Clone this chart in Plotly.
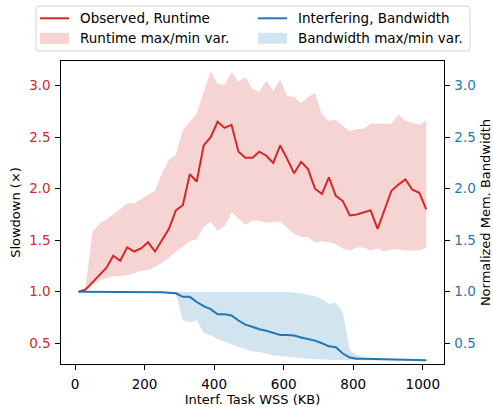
import plotly.graph_objects as go

# ---- data ----
wss_kb = [10, 30, 50, 70, 90, 110, 130, 150, 170, 190, 210, 230, 250, 270, 290, 310, 330, 350,
          370, 390, 410, 430, 450, 470, 490, 510, 530, 550, 570, 590, 610, 630, 650, 670, 690,
          710, 730, 750, 770, 790, 810, 830, 850, 870, 890, 910, 930, 950, 970, 990, 1010]

runtime_mean = [1.00, 1.02, 1.09, 1.16, 1.23, 1.35, 1.30, 1.43, 1.39, 1.42, 1.48, 1.39, 1.50, 1.61,
                1.79, 1.84, 2.14, 2.07, 2.42, 2.50, 2.65, 2.59, 2.62, 2.36, 2.30, 2.30, 2.36, 2.32,
                2.25, 2.42, 2.29, 2.15, 2.26, 2.19, 2.00, 1.95, 2.11, 1.93, 1.88, 1.74, 1.75, 1.77,
                1.79, 1.61, 1.80, 1.98, 2.04, 2.09, 1.99, 1.96, 1.80]
runtime_max = [1.00, 1.04, 1.58, 1.66, 1.70, 1.75, 1.80, 1.86, 1.86, 1.90, 1.94, 1.98, 2.15, 2.28,
               2.33, 2.57, 2.65, 2.73, 2.94, 3.14, 3.02, 3.01, 3.13, 3.04, 3.08, 2.97, 2.94, 3.05,
               2.95, 3.06, 2.90, 2.89, 2.83, 2.89, 2.93, 2.72, 2.66, 2.67, 2.61, 2.56, 2.58, 2.58,
               2.63, 2.63, 2.63, 2.63, 2.72, 2.66, 2.64, 2.62, 2.66]
runtime_min = [1.00, 1.01, 1.065, 1.11, 1.13, 1.15, 1.15, 1.16, 1.18, 1.20, 1.21, 1.24, 1.28, 1.33,
               1.39, 1.44, 1.49, 1.51, 1.63, 1.68, 1.59, 1.64, 1.77, 1.71, 1.65, 1.69, 1.69, 1.67,
               1.68, 1.68, 1.62, 1.56, 1.53, 1.53, 1.48, 1.49, 1.48, 1.46, 1.42, 1.40, 1.43, 1.43,
               1.40, 1.42, 1.39, 1.41, 1.41, 1.40, 1.40, 1.40, 1.43]

bw_mean = [1.00, 1.00, 1.00, 1.00, 1.00, 1.00, 1.00, 1.00, 1.00, 1.00, 1.00, 0.998, 0.995, 0.99,
           0.985, 0.95, 0.95, 0.90, 0.86, 0.83, 0.78, 0.78, 0.77, 0.72, 0.68, 0.66, 0.635, 0.62,
           0.60, 0.58, 0.58, 0.575, 0.555, 0.54, 0.525, 0.50, 0.47, 0.46, 0.40, 0.36, 0.35, 0.348,
           0.346, 0.345, 0.344, 0.342, 0.340, 0.339, 0.338, 0.337, 0.335]
bw_max = [1.00, 1.00, 1.00, 1.00, 1.00, 1.00, 1.00, 1.00, 1.00, 1.00, 1.00, 1.00, 1.00, 1.00,
          1.00, 1.00, 1.00, 1.00, 1.00, 1.00, 1.00, 1.00, 1.00, 1.00, 1.00, 1.00, 1.00, 1.00,
          1.00, 1.00, 0.998, 0.99, 0.985, 0.97, 0.955, 0.93, 0.88, 0.89, 0.80, 0.43, 0.385, 0.36,
          0.352, 0.349, 0.347, 0.345, 0.343, 0.342, 0.341, 0.340, 0.338]
bw_min = [1.00, 1.00, 1.00, 1.00, 1.00, 1.00, 1.00, 1.00, 1.00, 1.00, 1.00, 0.99, 0.985, 0.98,
          0.975, 0.725, 0.70, 0.72, 0.60, 0.58, 0.54, 0.515, 0.49, 0.466, 0.44, 0.42, 0.415, 0.395,
          0.38, 0.375, 0.37, 0.36, 0.356, 0.35, 0.345, 0.343, 0.34, 0.338, 0.336, 0.335, 0.334,
          0.333, 0.332, 0.332, 0.331, 0.331, 0.330, 0.330, 0.330, 0.329, 0.329]

x_ticks = [0, 200, 400, 600, 800, 1000]
y_ticks = [0.5, 1.0, 1.5, 2.0, 2.5, 3.0]

legend_labels = ["Observed, Runtime", "Interfering, Bandwidth",
                 "Runtime max/min var.", "Bandwidth max/min var."]

RED = "#d62728"
BLUE = "#1f77b4"
RED_FILL = "rgba(214,39,40,0.2)"
BLUE_FILL = "rgba(31,119,180,0.2)"
FONT = "DejaVu Sans"
TICK_SIZE = 13.5
TITLE_SIZE = 13

W, H = 493, 407
ML, MR, MT, MB = 61, 49, 61, 43
PW, PH = W - ML - MR, H - MT - MB


def px2paper_x(px):
    return (px - ML) / PW


def px2paper_y(py):
    return (H - MB - py) / PH


fig = go.Figure()

# runtime band + line
fig.add_trace(go.Scatter(
    x=wss_kb + wss_kb[::-1], y=runtime_max + runtime_min[::-1],
    fill="toself", fillcolor=RED_FILL, line=dict(width=0), mode="lines",
    name=legend_labels[2], showlegend=False, hoverinfo="skip"))
fig.add_trace(go.Scatter(
    x=wss_kb, y=runtime_mean, mode="lines", line=dict(color=RED, width=2),
    name=legend_labels[0], showlegend=False))

# bandwidth band + line (secondary axis)
fig.add_trace(go.Scatter(
    x=wss_kb + wss_kb[::-1], y=bw_max + bw_min[::-1], yaxis="y2",
    fill="toself", fillcolor=BLUE_FILL, line=dict(width=0), mode="lines",
    name=legend_labels[3], showlegend=False, hoverinfo="skip"))
fig.add_trace(go.Scatter(
    x=wss_kb, y=bw_mean, yaxis="y2", mode="lines", line=dict(color=BLUE, width=2),
    name=legend_labels[1], showlegend=False))

# ---- legend (drawn as shapes + text, two columns like the reference) ----
shapes = []
annotations = []
x0, x1 = px2paper_x(36), px2paper_x(470)
y0, y1 = px2paper_y(51), px2paper_y(6)
rx, ry = 3 / PW, 3 / PH
frame_path = (f"M{x0 + rx},{y1} L{x1 - rx},{y1} Q{x1},{y1} {x1},{y1 - ry} "
              f"L{x1},{y0 + ry} Q{x1},{y0} {x1 - rx},{y0} L{x0 + rx},{y0} "
              f"Q{x0},{y0} {x0},{y0 + ry} L{x0},{y1 - ry} Q{x0},{y1} {x0 + rx},{y1} Z")
shapes.append(dict(type="path", path=frame_path, xref="paper", yref="paper",
                   line=dict(color="#d5d5d5", width=1), fillcolor="white"))

col_sym_x = [40, 258]
col_txt_x = [78, 296]
row_y = [18.3, 38.3]
entries = [  # (label index, col, row, kind, color)
    (0, 0, 0, "line", RED),
    (1, 1, 0, "line", BLUE),
    (2, 0, 1, "rect", RED_FILL),
    (3, 1, 1, "rect", BLUE_FILL),
]
for idx, col, row, kind, color in entries:
    sx = col_sym_x[col]
    cy = row_y[row]
    if kind == "line":
        shapes.append(dict(type="line", xref="paper", yref="paper",
                           x0=px2paper_x(sx), x1=px2paper_x(sx + 29),
                           y0=px2paper_y(cy), y1=px2paper_y(cy),
                           line=dict(color=color, width=2)))
    else:
        shapes.append(dict(type="rect", xref="paper", yref="paper",
                           x0=px2paper_x(sx), x1=px2paper_x(sx + 29),
                           y0=px2paper_y(cy + 5.5), y1=px2paper_y(cy - 5.5),
                           line=dict(width=0), fillcolor=color))
    annotations.append(dict(text=legend_labels[idx], xref="paper", yref="paper",
                            x=px2paper_x(col_txt_x[col]), y=px2paper_y(cy),
                            xanchor="left", yanchor="middle", showarrow=False,
                            font=dict(size=13.5, family=FONT, color="black")))

yrange = [0.298, 3.24]
fig.update_layout(
    width=W, height=H,
    margin=dict(l=ML, r=MR, t=MT, b=MB),
    paper_bgcolor="white", plot_bgcolor="white",
    font=dict(family=FONT, size=TICK_SIZE, color="black"),
    shapes=shapes, annotations=annotations,
    showlegend=False,
    xaxis=dict(
        range=[-40.3, 1061], tickvals=x_ticks, ticks="outside", ticklen=4.5, tickwidth=1.2,
        tickcolor="black", showline=True, linecolor="black", linewidth=1.3, mirror=True,
        showgrid=False, zeroline=False, ticklabelstandoff=3, automargin=False,
        title=dict(text="Interf. Task WSS (KB)", standoff=9, font=dict(size=TITLE_SIZE)),
        tickfont=dict(size=TICK_SIZE, color="black")),
    yaxis=dict(
        range=yrange, tickvals=y_ticks, tickformat=".1f", ticks="outside", ticklen=4.5,
        tickwidth=1.2, tickcolor="black", showline=True, linecolor="black", linewidth=1.3,
        showgrid=False, zeroline=False, ticklabelstandoff=2, automargin=False,
        title=dict(text="Slowdown (×)", standoff=5, font=dict(size=TITLE_SIZE)),
        tickfont=dict(size=TICK_SIZE, color=RED)),
    yaxis2=dict(
        range=yrange, tickvals=y_ticks, tickformat=".1f", overlaying="y", side="right",
        ticks="outside", ticklen=4.5, tickwidth=1.2, tickcolor="black", showline=True,
        linecolor="black", linewidth=1.3, showgrid=False, zeroline=False, ticklabelstandoff=2,
        automargin=False,
        title=dict(text="Normalized Mem. Bandwidth", standoff=7, font=dict(size=TITLE_SIZE)),
        tickfont=dict(size=TICK_SIZE, color=BLUE)),
)

fig.write_html("out.html")
